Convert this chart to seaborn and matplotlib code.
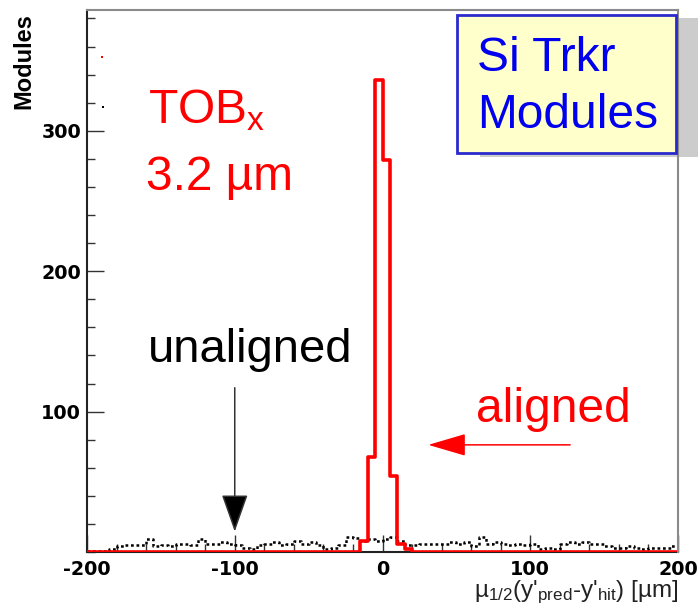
import numpy as np
import pandas as pd
import matplotlib
matplotlib.use("Agg")
import matplotlib.pyplot as plt
import seaborn as sns
from matplotlib.patches import Rectangle
from matplotlib.ticker import MultipleLocator, FixedLocator

# ---------------- data ----------------
x_min, x_max, bin_width = -200, 200, 5
aligned_counts = ([0] * 37 + [8, 68, 336, 279, 54, 6, 2] + [0] * 36)
unaligned_counts = [1, 1, 1, 2, 4, 5, 5, 5, 9, 4, 5, 4, 6, 6, 5, 9, 6, 6, 7, 6,
                    5, 3, 2, 5, 6, 7, 5, 6, 8, 6, 7, 5, 2, 3, 5, 11, 10, 8, 9, 8,
                    9, 11, 8, 5, 5, 6, 6, 6, 6, 7, 6, 7, 4, 11, 6, 7, 6, 5, 6, 5,
                    6, 2, 3, 2, 6, 7, 6, 7, 6, 6, 4, 3, 3, 4, 3, 2, 3, 3, 3, 4]
y_ticks = [100, 200, 300]
x_ticks = [-200, -100, 0, 100, 200]

edges = np.arange(x_min, x_max + bin_width, bin_width)
centers = edges[:-1] + bin_width / 2
df = pd.DataFrame({"x": np.concatenate([centers, centers]),
                   "n": aligned_counts + unaligned_counts,
                   "state": ["aligned"] * len(centers) + ["unaligned"] * len(centers)})

# ---------------- style ----------------
sns.set_theme(style="ticks")
plt.rcParams["font.family"] = ["Liberation Sans", "DejaVu Sans"]
plt.rcParams["axes.unicode_minus"] = False
plt.rcParams["mathtext.fontset"] = "custom"
plt.rcParams["mathtext.rm"] = "Liberation Sans"
plt.rcParams["mathtext.it"] = "Liberation Sans"
plt.rcParams["mathtext.default"] = "regular"

W, H = 698, 606
fig = plt.figure(figsize=(W / 100, H / 100), dpi=100)
def fx(x): return x / W
def fy(y): return 1 - y / H

ax = fig.add_axes([fx(87), fy(552), fx(678) - fx(87), fy(10) - fy(552)])
ax.set_facecolor("white")

sns.histplot(data=df[df.state == "unaligned"], x="x", weights="n",
             binwidth=bin_width, binrange=(x_min, x_max),
             element="step", fill=False, color="black", linestyle=(0, (1.1, 1.1)),
             lw=1.8, ax=ax, zorder=3)
sns.histplot(data=df[df.state == "aligned"], x="x", weights="n",
             binwidth=bin_width, binrange=(x_min, x_max),
             element="step", fill=False, color="#ff0000", lw=2.6,
             ax=ax, zorder=4)

ax.set_xlim(x_min, x_max)
ax.set_ylim(0, 386)
ax.set_xlabel("")
ax.set_ylabel("")
ax.xaxis.set_major_locator(FixedLocator(x_ticks))
ax.xaxis.set_minor_locator(MultipleLocator(20))
ax.yaxis.set_major_locator(FixedLocator(y_ticks))
ax.yaxis.set_minor_locator(MultipleLocator(20))
ax.tick_params(which="both", direction="in", color="#333333", width=1,
               top=False, right=False)
ax.tick_params(which="major", length=12)
ax.tick_params(which="minor", length=6)
ax.tick_params(axis="x", which="major", pad=5.5)
ax.tick_params(axis="y", which="major", pad=4.3)
for lab in ax.get_xticklabels() + ax.get_yticklabels():
    lab.set_fontfamily("DejaVu Sans")
    lab.set_fontweight("bold")
    lab.set_fontsize(13.8)
    lab.set_color("black")
for s in ["left", "bottom"]:
    ax.spines[s].set_color("#222222")
    ax.spines[s].set_linewidth(1.5)
for s in ["top", "right"]:
    ax.spines[s].set_color("#8a8a8a")
    ax.spines[s].set_linewidth(1.5)
    ax.spines[s].set_zorder(6)

# y label (ROOT style, at top)
fig.text(fx(24), fy(61), "Modules", rotation=90, ha="center", va="center",
         fontsize=17, fontweight="bold", color="black")
# x label (right aligned, cut at bottom)
fig.text(fx(678), fy(597), "µ$_{1/2}$(y'$_{pred}$-y'$_{hit}$) [µm]",
         ha="right", va="baseline", fontsize=17.5, color="#222222")

# legend-like remnant dots
fig.patches.append(Rectangle((fx(101), fy(58)), 2 / W, 2 / H, transform=fig.transFigure,
                             facecolor="red", edgecolor="none"))
fig.patches.append(Rectangle((fx(102), fy(108)), 2 / W, 2 / H, transform=fig.transFigure,
                             facecolor="black", edgecolor="none"))

# red texts
fig.text(fx(148), fy(123), "TOB$_{x}$", ha="left", va="baseline",
         fontsize=34.5, color="#ff0000")
fig.text(fx(146), fy(190), "3.2 µm", ha="left", va="baseline",
         fontsize=34.5, color="#ff0000")
fig.text(fx(148), fy(362), "unaligned", ha="left", va="baseline",
         fontsize=34, color="black")
fig.text(fx(476), fy(422), "aligned", ha="left", va="baseline",
         fontsize=34.5, color="#ff0000")

# arrows
ax.annotate("", xy=(-100, 14.5), xytext=(-100, 117),
            arrowprops=dict(arrowstyle="-|>,head_length=1.7,head_width=0.6",
                            mutation_scale=14, lw=1.1, color="#333333",
                            fc="black", ec="#333333", shrinkA=0, shrinkB=0),
            zorder=5)
ax.annotate("", xy=(31, 76.3), xytext=(127, 76.3),
            arrowprops=dict(arrowstyle="-|>,head_length=1.7,head_width=0.5",
                            mutation_scale=14, lw=1.1, color="#ff0000",
                            shrinkA=0, shrinkB=0),
            zorder=5)

# boxed label with shadow
ax.add_patch(Rectangle((fx(480), fy(157)), fx(720) - fx(480), fy(18) - fy(157),
                       transform=fig.transFigure, clip_on=False,
                       facecolor="#cccccc", edgecolor="none", zorder=5))
ax.add_patch(Rectangle((fx(457), fy(152.5)), fx(676) - fx(457), fy(14.5) - fy(152.5),
                       transform=fig.transFigure, clip_on=False,
                       facecolor="#ffffcc", edgecolor="#2a2acc", lw=2, zorder=7))
ax.text(fx(477), fy(71), "Si Trkr", transform=fig.transFigure, ha="left",
        va="baseline", fontsize=34.5, color="#0000ee", zorder=8)
ax.text(fx(477), fy(128), "Modules", transform=fig.transFigure, ha="left",
        va="baseline", fontsize=34.5, color="#0000ee", zorder=8)

fig.savefig("out.png", dpi=100)
